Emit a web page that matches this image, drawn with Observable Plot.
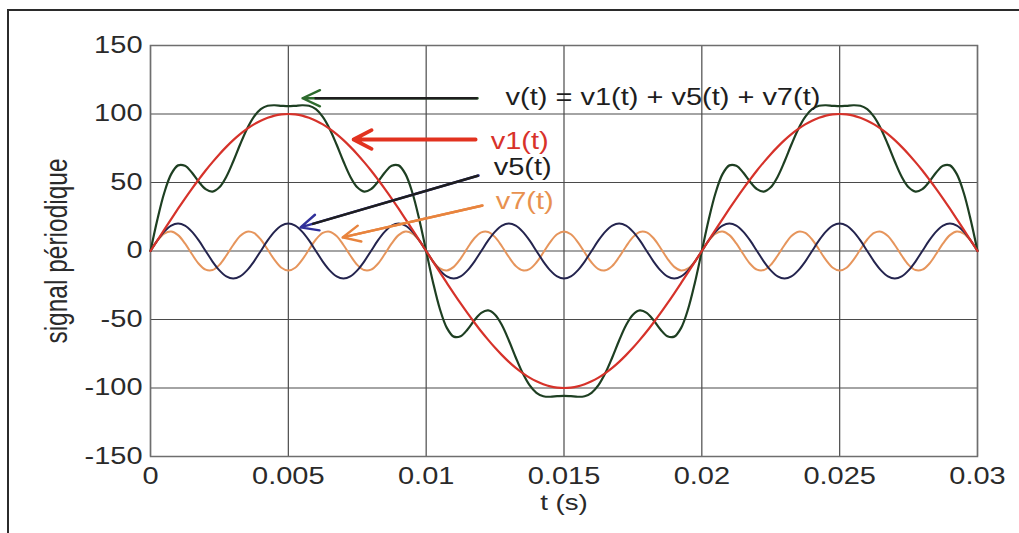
<!DOCTYPE html>
<html><head><meta charset="utf-8">
<script src="https://cdn.jsdelivr.net/npm/d3@7"></script>
<script src="https://cdn.jsdelivr.net/npm/@observablehq/plot@0.6"></script>
<style>
html,body{margin:0;padding:0;background:#fff;width:1019px;height:533px;overflow:hidden;}
#wrap{position:relative;width:1019px;height:533px;overflow:hidden;}
#chart{position:absolute;left:0;top:0;}
#border{position:absolute;left:7px;top:9px;width:1200px;height:800px;border-top:2px solid #2b2b2b;border-left:2px solid #2b2b2b;pointer-events:none;}
</style></head><body>
<div id="wrap"><div id="chart"></div><div id="border"></div></div>
<script>
// time samples (s)
const t = [
0,0.00025,0.0005,0.00075,0.001,0.00125,0.0015,0.00175,0.002,0.00225,
0.0025,0.00275,0.003,0.00325,0.0035,0.00375,0.004,0.00425,0.0045,0.00475,
0.005,0.00525,0.0055,0.00575,0.006,0.00625,0.0065,0.00675,0.007,0.00725,
0.0075,0.00775,0.008,0.00825,0.0085,0.00875,0.009,0.00925,0.0095,0.00975,
0.01,0.01025,0.0105,0.01075,0.011,0.01125,0.0115,0.01175,0.012,0.01225,
0.0125,0.01275,0.013,0.01325,0.0135,0.01375,0.014,0.01425,0.0145,0.01475,
0.015,0.01525,0.0155,0.01575,0.016,0.01625,0.0165,0.01675,0.017,0.01725,
0.0175,0.01775,0.018,0.01825,0.0185,0.01875,0.019,0.01925,0.0195,0.01975,
0.02,0.02025,0.0205,0.02075,0.021,0.02125,0.0215,0.02175,0.022,0.02225,
0.0225,0.02275,0.023,0.02325,0.0235,0.02375,0.024,0.02425,0.0245,0.02475,
0.025,0.02525,0.0255,0.02575,0.026,0.02625,0.0265,0.02675,0.027,0.02725,
0.0275,0.02775,0.028,0.02825,0.0285,0.02875,0.029,0.02925,0.0295,0.02975,
0.03];

// v1(t): fundamental
const v1 = [
0,7.8,15.6,23.3,30.9,38.3,45.4,52.2,58.8,64.9,70.7,76.0,80.9,85.3,89.1,92.4,95.1,97.2,98.8,99.7,100,
99.7,98.8,97.2,95.1,92.4,89.1,85.3,80.9,76.0,70.7,64.9,58.8,52.2,45.4,38.3,30.9,23.3,15.6,7.8,0,
-7.8,-15.6,-23.3,-30.9,-38.3,-45.4,-52.2,-58.8,-64.9,-70.7,-76.0,-80.9,-85.3,-89.1,-92.4,-95.1,-97.2,-98.8,-99.7,-100,
-99.7,-98.8,-97.2,-95.1,-92.4,-89.1,-85.3,-80.9,-76.0,-70.7,-64.9,-58.8,-52.2,-45.4,-38.3,-30.9,-23.3,-15.6,-7.8,0,
7.8,15.6,23.3,30.9,38.3,45.4,52.2,58.8,64.9,70.7,76.0,80.9,85.3,89.1,92.4,95.1,97.2,98.8,99.7,100,
99.7,98.8,97.2,95.1,92.4,89.1,85.3,80.9,76.0,70.7,64.9,58.8,52.2,45.4,38.3,30.9,23.3,15.6,7.8,0];

// v5(t): 5th harmonic
const v5 = [
0,7.7,14.1,18.5,20,18.5,14.1,7.7,0,-7.7,-14.1,-18.5,-20,-18.5,-14.1,-7.7,0,7.7,14.1,18.5,20,
18.5,14.1,7.7,0,-7.7,-14.1,-18.5,-20,-18.5,-14.1,-7.7,0,7.7,14.1,18.5,20,18.5,14.1,7.7,0,
-7.7,-14.1,-18.5,-20,-18.5,-14.1,-7.7,0,7.7,14.1,18.5,20,18.5,14.1,7.7,0,-7.7,-14.1,-18.5,-20,
-18.5,-14.1,-7.7,0,7.7,14.1,18.5,20,18.5,14.1,7.7,0,-7.7,-14.1,-18.5,-20,-18.5,-14.1,-7.7,0,
7.7,14.1,18.5,20,18.5,14.1,7.7,0,-7.7,-14.1,-18.5,-20,-18.5,-14.1,-7.7,0,7.7,14.1,18.5,20,
18.5,14.1,7.7,0,-7.7,-14.1,-18.5,-20,-18.5,-14.1,-7.7,0,7.7,14.1,18.5,20,18.5,14.1,7.7,0];

// v7(t): 7th harmonic
const v7 = [
0,7.5,12.7,14.2,11.6,5.5,-2.2,-9.3,-13.6,-13.9,-10.1,-3.3,4.4,10.9,14.1,13.2,8.4,1.1,-6.5,-12.2,-14.3,
-12.2,-6.5,1.1,8.4,13.2,14.1,10.9,4.4,-3.3,-10.1,-13.9,-13.6,-9.3,-2.2,5.5,11.6,14.2,12.7,7.5,0,
-7.5,-12.7,-14.2,-11.6,-5.5,2.2,9.3,13.6,13.9,10.1,3.3,-4.4,-10.9,-14.1,-13.2,-8.4,-1.1,6.5,12.2,14.3,
12.2,6.5,-1.1,-8.4,-13.2,-14.1,-10.9,-4.4,3.3,10.1,13.9,13.6,9.3,2.2,-5.5,-11.6,-14.2,-12.7,-7.5,0,
7.5,12.7,14.2,11.6,5.5,-2.2,-9.3,-13.6,-13.9,-10.1,-3.3,4.4,10.9,14.1,13.2,8.4,1.1,-6.5,-12.2,-14.3,
-12.2,-6.5,1.1,8.4,13.2,14.1,10.9,4.4,-3.3,-10.1,-13.9,-13.6,-9.3,-2.2,5.5,11.6,14.2,12.7,7.5,0];

// v(t) = v1(t) + v5(t) + v7(t)
const v = [
0,23.0,42.5,56.1,62.5,62.2,57.3,50.6,45.2,43.4,46.5,54.2,65.3,77.7,89.1,97.9,103.5,106.0,106.4,106.0,105.7,
106.0,106.4,106.0,103.5,97.9,89.1,77.7,65.3,54.2,46.5,43.4,45.2,50.6,57.3,62.2,62.5,56.1,42.5,23.0,0,
-23.0,-42.5,-56.1,-62.5,-62.2,-57.3,-50.6,-45.2,-43.4,-46.5,-54.2,-65.3,-77.7,-89.1,-97.9,-103.5,-106.0,-106.4,-106.0,-105.7,
-106.0,-106.4,-106.0,-103.5,-97.9,-89.1,-77.7,-65.3,-54.2,-46.5,-43.4,-45.2,-50.6,-57.3,-62.2,-62.5,-56.1,-42.5,-23.0,0,
23.0,42.5,56.1,62.5,62.2,57.3,50.6,45.2,43.4,46.5,54.2,65.3,77.7,89.1,97.9,103.5,106.0,106.4,106.0,105.7,
106.0,106.4,106.0,103.5,97.9,89.1,77.7,65.3,54.2,46.5,43.4,45.2,50.6,57.3,62.2,62.5,56.1,42.5,23.0,0];

// axis ticks
const xTicks = [0, 0.005, 0.01, 0.015, 0.02, 0.025, 0.03];
const yTicks = [-150, -100, -50, 0, 50, 100, 150];

// annotations (data units)
const noteText  = ["v(t) = v1(t) + v5(t) + v7(t)", "v1(t)", "v5(t)", "v7(t)"];
const noteT     = [0.01288, 0.01234, 0.01245, 0.01252];
const noteV     = [111.6, 80.2, 61.2, 35.7];
const noteColor = ["#1e1e1e", "#d8322a", "#1e1e1e", "#e8914f"];

// thin annotation arrows: v, v5, v7
const thinFromT  = [0.011867, 0.011903, 0.012048];
const thinFromV  = [111.5, 55.1, 33.2];
const thinToT    = [0.005516, 0.005443, 0.006968];
const thinToV    = [111.5, 17.2, 9.9];
const thinHead   = ["#2e6b2e", "#30309a", "#e8843e"];
const thinShaft  = ["#1e1e1e", "#1e1e1e", "#e8843e"];
const shaftEndT  = [0.005952, 0.005861, 0.006968];
const shaftEndV  = [111.5, 19.6, 9.9];
// thick red arrow: v1
const redFromT = [0.011794], redFromV = [81.4], redToT = [0.007367], redToV = [81.4];

const rows = t.map((ti, i) => ({t: ti, v: v[i], v1: v1[i], v5: v5[i], v7: v7[i]}));
const notes = noteText.map((s, i) => ({s, t: noteT[i], v: noteV[i], c: noteColor[i]}));
const thin = thinFromT.map((x1, i) => ({
  x1, y1: thinFromV[i], x2: thinToT[i], y2: thinToV[i],
  xe: shaftEndT[i], ye: shaftEndV[i], head: thinHead[i], shaft: thinShaft[i]
}));
const red = redFromT.map((x1, i) => ({x1, y1: redFromV[i], x2: redToT[i], y2: redToV[i]}));

const fontFamily = '"Liberation Sans", Arial, Helvetica, sans-serif';
const curve = "catmull-rom";

const chart = Plot.plot({
  width: 1019, height: 533,
  marginLeft: 150, marginRight: 42, marginTop: 45, marginBottom: 77,
  x: {domain: [0, 0.03]},
  y: {domain: [-150, 150]},
  color: {type: "identity"},
  style: {fontFamily, fontSize: "23px", color: "#2a2a2a", background: "transparent", overflow: "visible"},
  marks: [
    Plot.gridX(xTicks, {stroke: "#4a4a4a", strokeOpacity: 1, strokeWidth: 1.2}),
    Plot.gridY(yTicks, {stroke: "#4a4a4a", strokeOpacity: 1, strokeWidth: 1.2}),
    Plot.frame({stroke: "#6e6e6e", strokeWidth: 1.5}),
    Plot.line(rows, {x: "t", y: "v7", stroke: "#e6955c", strokeWidth: 2, curve}),
    Plot.line(rows, {x: "t", y: "v5", stroke: "#24244e", strokeWidth: 2, curve}),
    Plot.line(rows, {x: "t", y: "v", stroke: "#1e3f22", strokeWidth: 2.2, curve}),
    Plot.line(rows, {x: "t", y: "v1", stroke: "#d6322a", strokeWidth: 2.2, curve}),
    Plot.axisX({ticks: xTicks, tickSize: 0, tickPadding: 11, tickFormat: d => String(d), label: null, fontSize: 23}),
    Plot.axisY({ticks: yTicks, tickSize: 0, tickPadding: 8, tickFormat: d => String(d), label: null, fontSize: 23}),
    Plot.text(["t (s)"], {text: d => d, frameAnchor: "bottom", textAnchor: "middle", dy: 53, fontSize: 22, fill: "#2a2a2a"}),
    Plot.text(["signal périodique"], {text: d => d, frameAnchor: "left", textAnchor: "middle", dx: -93, rotate: -90, fontSize: 24.5, fill: "#2a2a2a"}),
    Plot.arrow(thin, {x1: "x1", y1: "y1", x2: "x2", y2: "y2", stroke: "head", strokeWidth: 2.4, headLength: 12, headAngle: 50}),
    Plot.link(thin, {x1: "x1", y1: "y1", x2: "xe", y2: "ye", stroke: "shaft", strokeWidth: 2.4}),
    Plot.arrow(red, {x1: "x1", y1: "y1", x2: "x2", y2: "y2", stroke: "#e2321f", strokeWidth: 3.8, headLength: 8, headAngle: 55}),
    Plot.text(notes, {x: "t", y: "v", text: "s", fill: "c", textAnchor: "start", fontSize: 23})
  ]
});

document.getElementById("chart").append(chart);

// horizontal stretch of the text (the reference glyphs are wide)
const STRETCH = 1.26;
chart.querySelectorAll("text").forEach(el => {
  const tr = el.getAttribute("transform") || "";
  if (tr.includes("rotate")) {
    el.setAttribute("transform", tr + " scale(1," + STRETCH + ")");
    return;
  }
  const w = el.getComputedTextLength();
  if (w > 0) {
    el.setAttribute("textLength", (w * STRETCH).toFixed(1));
    el.setAttribute("lengthAdjust", "spacingAndGlyphs");
  }
});
</script>
</body></html>
